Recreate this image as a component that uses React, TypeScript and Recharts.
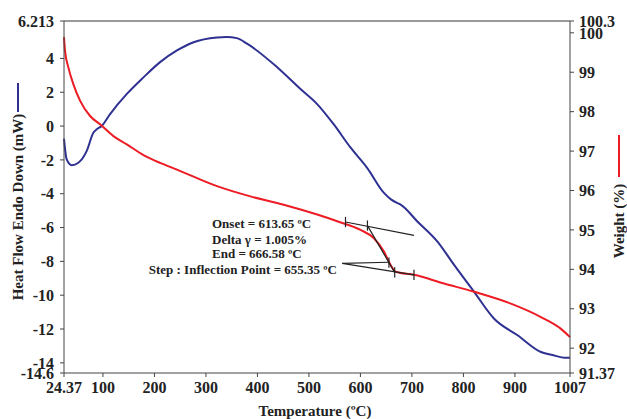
import {
  ComposedChart,
  Line,
  XAxis,
  YAxis,
  ReferenceLine
} from "recharts"

// heat flow (left axis, mW)
const hfTemp = [24.37, 29.6, 39.3, 52.2, 68.5, 81.4, 88, 97.7, 113.9, 146.4, 178.7, 211, 243.7, 276, 321.5, 340, 360, 379.9, 438.3, 483.6, 516, 548, 581, 613, 645.7, 660, 671.7, 678, 710.6, 749.6, 781.9, 820.8, 859.7, 905.2, 950.5, 976.5, 996, 1007]
const hfValue = [-0.75, -1.97, -2.31, -2.17, -1.47, -0.39, -0.19, 0.01, 0.71, 1.9, 2.88, 3.78, 4.47, 4.96, 5.24, 5.27, 5.2, 4.87, 3.48, 2.19, 1.3, 0.11, -1.28, -2.47, -3.95, -4.35, -4.55, -4.64, -5.64, -6.83, -8.21, -9.8, -11.39, -12.37, -13.36, -13.56, -13.7, -13.7]

// weight (right axis, %)
const wtTemp = [24.37, 26.3, 32.7, 42.5, 55.5, 75, 94.4, 120.3, 146.4, 178.7, 211, 243.7, 321.5, 386.3, 451.1, 516.1, 555, 600.3, 626.2, 645.7, 658.7, 668.4, 704, 762.4, 820.8, 892.2, 950.5, 989.5, 1007]
const wtValue = [99.89, 99.55, 99.13, 98.7, 98.28, 97.89, 97.68, 97.38, 97.17, 96.9, 96.7, 96.53, 96.11, 95.85, 95.64, 95.39, 95.22, 95.0, 94.79, 94.45, 94.11, 93.94, 93.86, 93.64, 93.43, 93.13, 92.79, 92.49, 92.28]

const xTicks = [24.37, 100, 200, 300, 400, 500, 600, 700, 800, 900, 1007]
const leftTicks = [-14.6, -14, -12, -10, -8, -6, -4, -2, 0, 2, 4, 6.213]
const rightTicks = [91.37, 92, 93, 94, 95, 96, 97, 98, 99, 100, 100.3]

// tangent construction lines (temperature, weight)
const tangents = [
  [[571, 95.2], [704, 94.86]],
  [[613.65, 95.11], [666.58, 93.92]],
  [[564.7, 94.15], [655.35, 94.18]],
  [[564.7, 94.15], [704, 93.86]]
]
const tickMarks = [[571, 95.2], [613.65, 95.11], [655.35, 94.17], [666.58, 93.92], [704, 93.86]]

const notes = [
  "Onset = 613.65 ºC",
  "Delta γ = 1.005%",
  "End = 666.58 ºC",
  "Step : Inflection Point = 655.35 ºC"
]

const hfData = hfTemp.map((t, i) => ({ t, hf: hfValue[i] }))
const wtData = wtTemp.map((t, i) => ({ t, w: wtValue[i] }))

const BLUE = "#2e3192"
const RED = "#ed1c24"
const FONT = "'Liberation Serif', 'Times New Roman', serif"
const tickStyle = { fill: "#222", fontSize: 16, fontWeight: "bold", fontFamily: FONT }

export default function App() {
  return (
    <div style={{ position: "absolute", left: 0, top: 0, width: 627, height: 419, background: "#fff" }}>
      <ComposedChart width={627} height={419} margin={{ top: 21, right: 0, bottom: 0, left: 0 }}>
        <XAxis
          dataKey="t"
          type="number"
          domain={[24.37, 1007]}
          ticks={xTicks}
          interval={0}
          allowDuplicatedCategory={false}
          height={46}
          stroke="#444"
          tickSize={4}
          tickMargin={5}
          tick={tickStyle}
        />
        <YAxis
          yAxisId="left"
          domain={[-14.6, 6.213]}
          ticks={leftTicks}
          interval={0}
          width={64}
          stroke="#444"
          tickSize={4}
          tickMargin={6}
          tick={tickStyle}
        />
        <YAxis
          yAxisId="right"
          orientation="right"
          domain={[91.37, 100.3]}
          ticks={rightTicks}
          interval={0}
          width={57}
          stroke="#444"
          tickSize={4}
          tickMargin={5}
          tick={{ ...tickStyle, textAnchor: "start" }}
        />
        <ReferenceLine yAxisId="left" y={6.213} stroke="#777" strokeWidth={1.5} />
        <Line
          yAxisId="left"
          data={hfData}
          dataKey="hf"
          type="monotone"
          stroke={BLUE}
          strokeWidth={2}
          dot={false}
          isAnimationActive={false}
        />
        <Line
          yAxisId="right"
          data={wtData}
          dataKey="w"
          type="monotone"
          stroke={RED}
          strokeWidth={2}
          dot={false}
          isAnimationActive={false}
        />
        {tangents.map((s, i) => (
          <ReferenceLine
            key={"tg" + i}
            yAxisId="right"
            segment={[{ x: s[0][0], y: s[0][1] }, { x: s[1][0], y: s[1][1] }]}
            stroke="#222"
            strokeWidth={1.2}
          />
        ))}
        {tickMarks.map((p, i) => (
          <ReferenceLine
            key={"tm" + i}
            yAxisId="right"
            segment={[{ x: p[0], y: p[1] - 0.13 }, { x: p[0], y: p[1] + 0.13 }]}
            stroke="#222"
            strokeWidth={1.2}
          />
        ))}
      </ComposedChart>
      <svg
        width={627}
        height={419}
        style={{ position: "absolute", left: 0, top: 0, pointerEvents: "none" }}
      >
        <g fontFamily={FONT} fontWeight="bold" fill="#222">
          <line x1={18} y1={83} x2={18} y2={112} stroke={BLUE} strokeWidth={2} />
          <text x={18} y={207} fontSize={15} textAnchor="middle" dominantBaseline="central" transform="rotate(-90 18 207)">
            Heat Flow Endo Down (mW)
          </text>
          <line x1={619} y1={135} x2={619} y2={177} stroke={RED} strokeWidth={2} />
          <text x={619} y={221} fontSize={15} textAnchor="middle" dominantBaseline="central" transform="rotate(-90 619 221)">
            Weight (%)
          </text>
          <text x={315} y={411} fontSize={15} textAnchor="middle" dominantBaseline="central">
            Temperature (ºC)
          </text>
          <text x={212} y={228} fontSize={13}>{notes[0]}</text>
          <text x={212} y={244} fontSize={13}>{notes[1]}</text>
          <text x={212} y={258} fontSize={13}>{notes[2]}</text>
          <text x={337} y={274} fontSize={13} textAnchor="end">{notes[3]}</text>
        </g>
      </svg>
    </div>
  )
}
